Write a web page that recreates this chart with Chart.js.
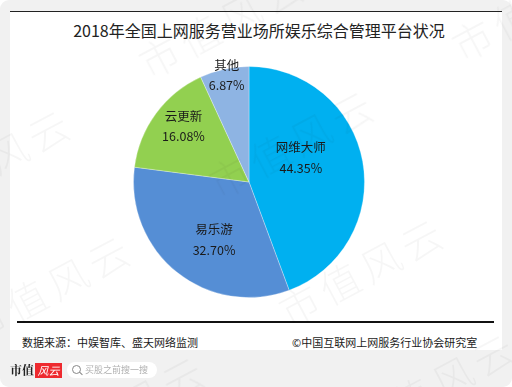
<!DOCTYPE html>
<html>
<head>
<meta charset="utf-8">
<script src="https://cdn.jsdelivr.net/npm/chart.js@4"></script>
<style>
    html, body { margin: 0; padding: 0; background: #fff; }
    body { width: 512px; height: 387px; overflow: hidden; position: relative; font-family: "Noto Sans CJK SC", sans-serif; }
    .page { position: absolute; left: 0; top: 0; width: 512px; height: 387px; background: #f1f1f1; border-radius: 9px; }
    .panel { position: absolute; left: 10px; top: 11px; width: 492px; height: 339px; background: #fff; border-top: 1px solid #222; box-sizing: border-box; }
    .chart-box { position: absolute; left: 0; top: 0; width: 512px; height: 387px; }
    .title { position: absolute; left: 10px; top: 19px; width: 498px; text-align: center; font-size: 16px; line-height: 22px; color: #222; white-space: nowrap; }
    .rule { position: absolute; left: 17px; top: 321px; width: 477px; height: 2px; background: #111; }
    .note { position: absolute; top: 334px; font-size: 11px; line-height: 16px; color: #1a1a1a; white-space: nowrap; }
    .logo { position: absolute; left: 10px; top: 361px; font-family: "Noto Serif CJK SC", "Noto Sans CJK SC", serif; font-weight: 700; font-size: 12px; line-height: 18px; color: #222; }
    .logo-red { position: absolute; left: 35px; top: 363px; width: 27px; height: 15px; background: #ee2a2f; color: #fff; font-size: 11px; line-height: 15px; font-style: italic; text-align: center; }
    .search { position: absolute; left: 67px; top: 362px; width: 90px; height: 16px; border-radius: 8px; background: #fff; }
    .search i { position: absolute; left: 5px; top: 3px; width: 7px; height: 7px; border: 1px solid #888; border-radius: 50%; }
    .search b { position: absolute; left: 12px; top: 11px; width: 4px; height: 1px; background: #888; transform: rotate(45deg); }
    .search span { position: absolute; left: 18px; top: 0; font-size: 9px; line-height: 16px; color: #b0b0b0; white-space: nowrap; }
    .mark { position: absolute; font-size: 40px; line-height: 40px; letter-spacing: 6px; color: rgba(0,0,0,0.035); transform: rotate(-28deg); transform-origin: left center; white-space: nowrap; pointer-events: none; font-weight: 300; }
</style>
</head>
<body>
<div class="page"></div>
<div class="panel"></div>
<div class="title">2018年全国上网服务营业场所娱乐综合管理平台状况</div>
<div class="rule"></div>
<div class="note" style="left:22px">数据来源：中娱智库、盛天网络监测</div>
<div class="note" style="left:292px">©中国互联网上网服务行业协会研究室</div>
<div class="chart-box"><canvas id="pieChart" width="512" height="387"></canvas></div>
<div class="logo">市值</div>
<div class="logo-red">风云</div>
<div class="search"><i></i><b></b><span>买股之前搜一搜</span></div>
<div class="mark" style="left:-32px;top:310px">市值风云</div>
<div class="mark" style="left:-92px;top:184px">市值风云</div>
<div class="mark" style="left:141px;top:45px">市值风云</div>
<div class="mark" style="left:211px;top:165px">市值风云</div>
<div class="mark" style="left:281px;top:293px">市值风云</div>
<div class="mark" style="left:454px;top:28px">市值风云</div>
<div class="mark" style="left:353px;top:408px">市值风云</div>
<div class="mark" style="left:42px;top:431px">市值风云</div>
<script>
const categories = ['网维大师', '易乐游', '云更新', '其他'];
const shares = [44.35, 32.70, 16.08, 6.87];
const sliceColors = ['#00b0f0', '#558ed5', '#92d050', '#8eb4e3'];
// Spostamento delle etichette rispetto al centro della fetta
const labelShift = [[-5, -14], [1, 13], [-19, -22], [-10, -50]];
const labelGaps = [21, 21, 20, 20];

// Etichette su due righe: nome e percentuale
const sliceLabels = {
    id: 'sliceLabels',
    afterDatasetsDraw(chart) {
        const ctx = chart.ctx;
        const arcs = chart.getDatasetMeta(0).data;
        ctx.save();
        ctx.font = '12.5px "Noto Sans CJK SC"';
        ctx.fillStyle = '#1a1a1a';
        ctx.textAlign = 'center';
        ctx.textBaseline = 'middle';
        arcs.forEach((arc, i) => {
            const p = arc.tooltipPosition();
            const x = p.x + labelShift[i][0];
            const y = p.y + labelShift[i][1];
            ctx.fillText(categories[i], x, y - labelGaps[i] / 2);
            ctx.fillText(shares[i].toFixed(2) + '%', x, y + labelGaps[i] / 2);
        });
        ctx.restore();
    }
};

new Chart(document.getElementById('pieChart'), {
    type: 'pie',
    data: {
        labels: categories,
        datasets: [{
            data: shares,
            backgroundColor: sliceColors,
            borderColor: 'rgba(255,255,255,0.3)',
            borderWidth: 1
        }]
    },
    options: {
        responsive: false,
        animation: false,
        layout: { padding: { left: 133, right: 147, top: 66, bottom: 89 } },
        plugins: {
            legend: { display: false },
            tooltip: { enabled: false }
        }
    },
    plugins: [sliceLabels]
});
</script>
</body>
</html>
